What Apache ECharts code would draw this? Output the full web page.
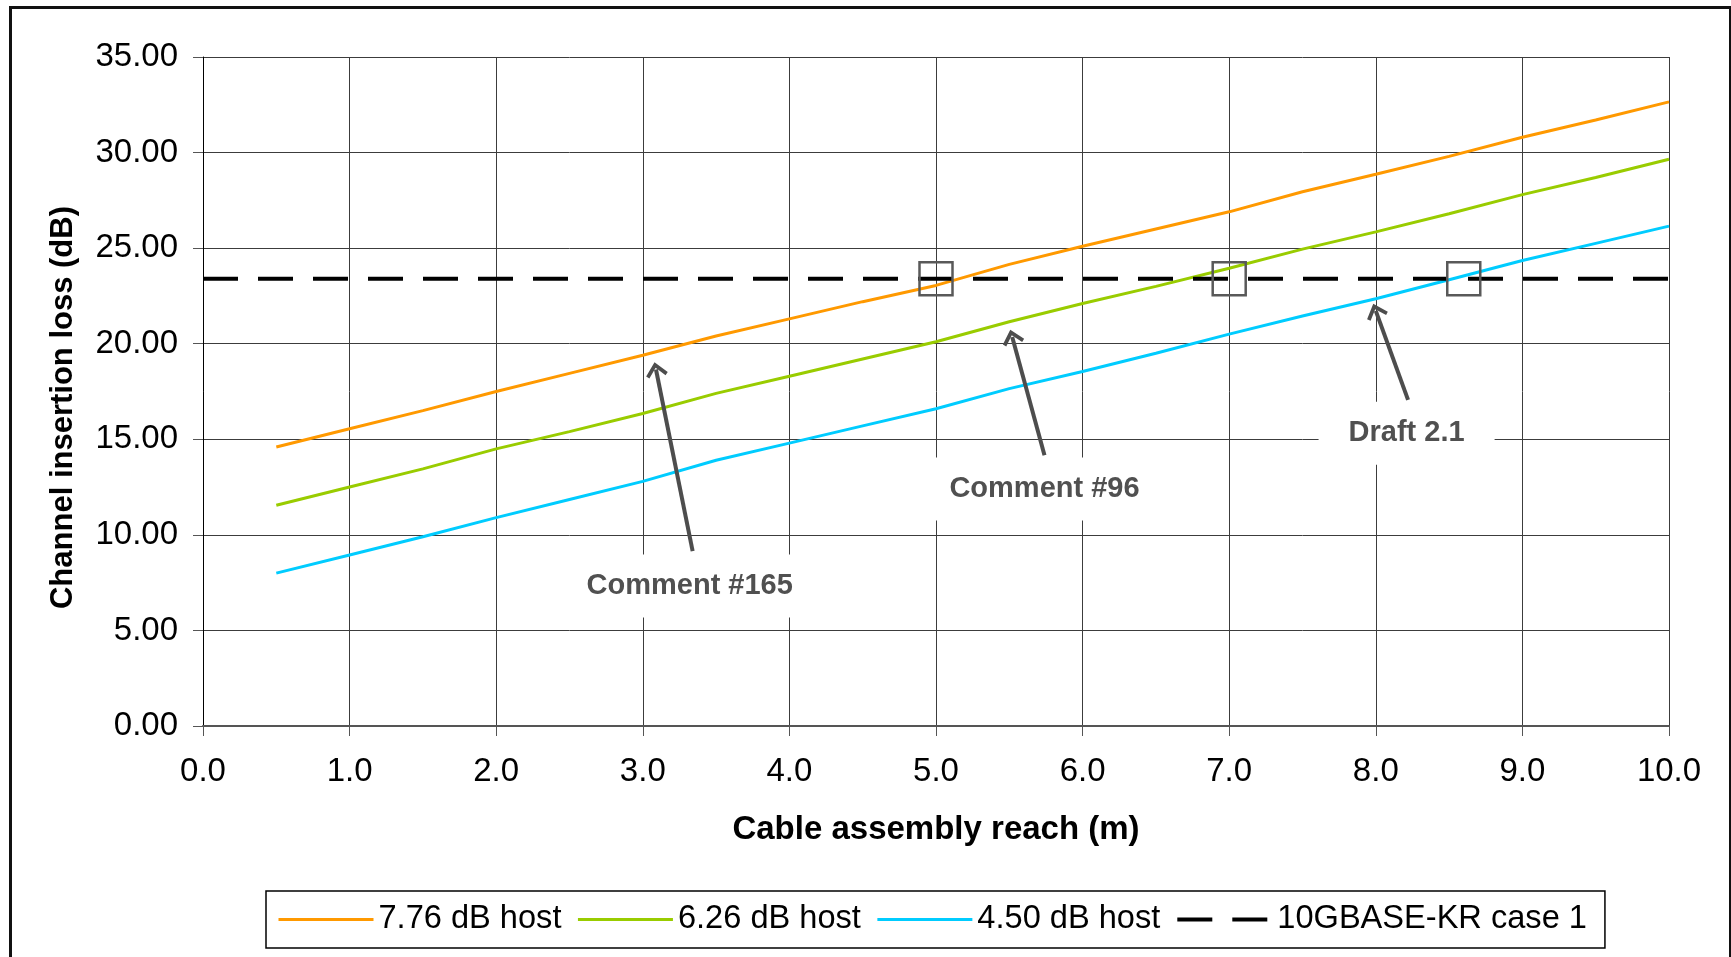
<!DOCTYPE html>
<html>
<head>
<meta charset="UTF-8">
<title>Channel insertion loss vs cable reach</title>
<script src="https://cdn.jsdelivr.net/npm/echarts@6/dist/echarts.min.js"></script>
<style>
  html, body { margin: 0; padding: 0; background: #fff; }
  #chart { width: 1731px; height: 957px; }
</style>
</head>
<body>
<div id="chart"></div>
<script>
// cable assembly reach (m)
var reach = [0.5, 1.0, 1.5, 2.0, 2.5, 3.0, 3.5, 4.0, 4.5, 5.0, 5.5, 6.0, 6.5, 7.0, 7.5, 8.0, 8.5, 9.0, 9.5, 10.0];
// channel insertion loss (dB) per host loss
var host776 = [14.60, 15.55, 16.50, 17.50, 18.45, 19.40, 20.40, 21.30, 22.20, 23.05, 24.15, 25.10, 26.00, 26.90, 27.95, 28.87, 29.80, 30.80, 31.70, 32.65];
var host626 = [11.55, 12.50, 13.45, 14.50, 15.40, 16.35, 17.40, 18.30, 19.20, 20.10, 21.15, 22.10, 23.00, 23.95, 24.95, 25.85, 26.80, 27.80, 28.70, 29.65];
var host450 = [8.00, 8.95, 9.90, 10.90, 11.85, 12.80, 13.90, 14.80, 15.70, 16.60, 17.65, 18.55, 19.50, 20.50, 21.45, 22.35, 23.35, 24.35, 25.25, 26.15];
// 10GBASE-KR case 1 limit
var krReach = [0, 10];
var krLoss = [23.4, 23.4];
// reach where each host curve meets the limit (boxed)
var crossReach = [5.0, 7.0, 8.6];

var seriesNames = ['7.76 dB host', '6.26 dB host', '4.50 dB host', '10GBASE-KR case 1'];
var xTicks = { min: 0, max: 10, step: 1 };
var yTicks = { min: 0, max: 35, step: 5 };

// callouts: label centre, arrow tail, arrow head (data units)
var notes = [
  { text: 'Comment #165', at: [3.32, 7.33], from: [3.34, 9.15], to: [3.09, 18.65], bend: -0.12 },
  { text: 'Comment #96',  at: [5.74, 12.40], from: [5.74, 14.16], to: [5.52, 20.35], bend: -0.14 },
  { text: 'Draft 2.1',    at: [8.21, 15.31], from: [8.22, 17.06], to: [8.00, 21.72], bend: -0.18 }
];

var FONT = '"Liberation Sans", Arial, sans-serif';
var chevron = 'path://M12,0 L24,14 L21,17 L12,6.5 L3,17 L0,14 Z';
var colors = ['#ff9900', '#99cc00', '#00ccff', '#000000'];
var lineStyles = [
  { color: colors[0], width: 3, type: 'solid' },
  { color: colors[1], width: 3, type: 'solid' },
  { color: colors[2], width: 3, type: 'solid' },
  { color: colors[3], width: 4, type: [35, 20] }
];

function pairs(xs, ys) {
  return xs.map(function (x, i) { return [x, ys[i]]; });
}

var chart = echarts.init(document.getElementById('chart'));

var option = {
  animation: false,
  backgroundColor: '#fff',
  graphic: [{
    type: 'rect',
    left: 8, top: 5,
    shape: { width: 1720, height: 1000 },
    style: { fill: 'none', stroke: '#111', lineWidth: 3 },
    silent: true
  }],
  grid: { left: 203, right: 62, top: 57, bottom: 231 },
  legend: {
    data: seriesNames.map(function (n, i) {
      return { name: n, itemStyle: { opacity: 0 }, lineStyle: lineStyles[i] };
    }),
    left: 266, top: 891,
    padding: [12, 18, 12, 11],
    itemWidth: 95, itemHeight: 14, itemGap: 15,
    borderColor: '#000', borderWidth: 1.5,
    textStyle: { fontFamily: FONT, fontSize: 32.6, color: '#000' }
  },
  xAxis: {
    type: 'value',
    min: xTicks.min, max: xTicks.max, interval: xTicks.step,
    name: 'Cable assembly reach (m)',
    nameLocation: 'middle', nameGap: 87,
    nameTextStyle: { fontFamily: FONT, fontSize: 33, fontWeight: 'bold', color: '#000' },
    axisLine: { show: true, lineStyle: { color: '#555', width: 2 } },
    axisTick: { show: true, length: 10, lineStyle: { color: '#555' } },
    axisLabel: { margin: 29, fontFamily: FONT, fontSize: 33, color: '#000',
      formatter: function (v) { return v.toFixed(1); } },
    splitLine: { show: true, lineStyle: { color: '#3c3c3c', width: 1 } }
  },
  yAxis: {
    type: 'value',
    min: yTicks.min, max: yTicks.max, interval: yTicks.step,
    name: 'Channel insertion loss (dB)',
    nameLocation: 'middle', nameGap: 124,
    nameTextStyle: { fontFamily: FONT, fontSize: 31, fontWeight: 'bold', color: '#000', padding: [0, 32, 0, 0] },
    axisLine: { show: true, lineStyle: { color: '#000', width: 1 } },
    axisTick: { show: true, length: 10, lineStyle: { color: '#555' } },
    axisLabel: { margin: 25, fontFamily: FONT, fontSize: 33, color: '#000',
      formatter: function (v) { return v.toFixed(2); } },
    splitLine: { show: true, lineStyle: { color: '#3c3c3c', width: 1 } }
  },
  series: [
    { name: seriesNames[0], type: 'line', data: pairs(reach, host776), symbol: 'none',
      lineStyle: lineStyles[0], itemStyle: { color: colors[0] } },
    { name: seriesNames[1], type: 'line', data: pairs(reach, host626), symbol: 'none',
      lineStyle: lineStyles[1], itemStyle: { color: colors[1] } },
    { name: seriesNames[2], type: 'line', data: pairs(reach, host450), symbol: 'none',
      lineStyle: lineStyles[2], itemStyle: { color: colors[2] } },
    { name: seriesNames[3], type: 'line', data: pairs(krReach, krLoss), symbol: 'none',
      lineStyle: lineStyles[3], itemStyle: { color: colors[3] },
      markPoint: {
        silent: true,
        symbol: 'rect', symbolSize: 33,
        itemStyle: { color: 'rgba(0,0,0,0)', borderColor: '#595959', borderWidth: 2.5 },
        label: { show: false },
        data: crossReach.map(function (x) { return { coord: [x, krLoss[0]] }; })
      }
    },
    { name: 'notes', type: 'line', data: [], symbol: 'none',
      markPoint: {
        silent: true,
        symbol: 'rect', symbolSize: 1,
        itemStyle: { color: 'rgba(0,0,0,0)' },
        label: {
          show: true, position: 'inside', formatter: '{b}',
          fontFamily: FONT, fontSize: 29, fontWeight: 'bold', color: '#505050',
          backgroundColor: '#fff', padding: [17, 30]
        },
        data: notes.map(function (n) { return { name: n.text, coord: n.at }; })
      },
      markLine: {
        silent: true,
        symbol: ['none', chevron], symbolSize: [22, 15],
        label: { show: false },
        lineStyle: { color: '#4d4d4d', width: 4, type: 'solid' },
        data: notes.map(function (n) {
          return [{ coord: n.from, lineStyle: { curveness: n.bend } }, { coord: n.to }];
        })
      }
    }
  ]
};

chart.setOption(option);
</script>
</body>
</html>
